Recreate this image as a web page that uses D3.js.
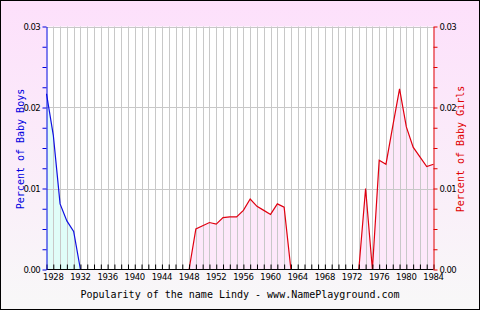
<!DOCTYPE html>
<html>
<head>
<meta charset="utf-8">
<script src="https://cdn.jsdelivr.net/npm/d3@7"></script>
<style>
  body { margin: 0; }
  svg { display: block; }
</style>
</head>
<body>
<svg id="chart"></svg>
<script>
// popularity of "Lindy", percent of babies per year
const boyYears = [1927, 1928, 1929, 1930, 1931, 1932];
const boyValues = [0.0217, 0.0166, 0.0081, 0.0060, 0.0047, 0.0];

const girlYears = [1948, 1949, 1950, 1951, 1952, 1953, 1954, 1955, 1956, 1957, 1958, 1959, 1960, 1961, 1962, 1963,
  1973, 1974, 1975, 1976, 1977, 1978, 1979, 1980, 1981, 1982, 1983, 1984];
const girlValues = [0.0, 0.0050, 0.0054, 0.0058, 0.0056, 0.0064, 0.0065, 0.0065, 0.0073, 0.0087, 0.0078, 0.0073, 0.0068, 0.0081, 0.0077, 0.0,
  0.0, 0.0100, 0.0, 0.0135, 0.0130, 0.0177, 0.0223, 0.0176, 0.0151, 0.0139, 0.0127, 0.0130];

const yearTicks = d3.range(1928, 1985, 4);
const valueTicks = [0, 0.01, 0.02, 0.03];
const valueLabels = ["0.00", "0.01", "0.02", "0.03"];
const title = "Popularity of the name Lindy - www.NamePlayground.com";

const W = 480, H = 310;
const svg = d3.select("#chart").attr("width", W).attr("height", H);

const defs = svg.append("defs");
const grad = defs.append("linearGradient").attr("id", "bg")
  .attr("x1", 0).attr("y1", 0).attr("x2", 0).attr("y2", 1);
grad.append("stop").attr("offset", "0%").attr("stop-color", "#fde0fb");
grad.append("stop").attr("offset", "100%").attr("stop-color", "#f8f8f8");

svg.append("rect").attr("x", 0.5).attr("y", 0.5).attr("width", W - 1).attr("height", H - 1)
  .attr("fill", "url(#bg)").attr("stroke", "#000");

const pLeft = 46.5, pRight = 433.5, pTop = 26.5, pBottom = 269.5;

const x = d3.scaleLinear().domain([1927, 1984]).range([pLeft, pRight]);
const y = d3.scaleLinear().domain([0, 0.03]).range([pBottom, pTop]);

svg.append("rect").attr("x", pLeft).attr("y", pTop).attr("width", pRight - pLeft).attr("height", pBottom - pTop)
  .attr("fill", "#fff");

// areas first so the grid shows through
const area = d3.area().x(d => x(d[0])).y0(y(0)).y1(d => y(d[1]));
const line = d3.line().x(d => x(d[0])).y(d => y(d[1]));

const boys = boyYears.map((yr, i) => [yr, boyValues[i]]);
const girls = girlYears.map((yr, i) => [yr, girlValues[i]]);
const girlParts = [girls.slice(0, 16), girls.slice(16)];

svg.append("path").datum(boys).attr("d", area).attr("fill", "#e0fdf8");
girlParts.forEach(p => svg.append("path").datum(p).attr("d", area).attr("fill", "#fde8fa"));

// grid
svg.append("g").selectAll("line").data(d3.range(1928, 1984)).join("line")
  .attr("x1", d => Math.round(x(d)) + 0.5).attr("x2", d => Math.round(x(d)) + 0.5)
  .attr("y1", pTop).attr("y2", pBottom)
  .attr("stroke", "#c8c8c8");
svg.append("g").selectAll("line").data(valueTicks.slice(1)).join("line")
  .attr("x1", pLeft).attr("x2", pRight)
  .attr("y1", d => Math.round(y(d)) + 0.5).attr("y2", d => Math.round(y(d)) + 0.5)
  .attr("stroke", "#c8c8c8");

svg.append("path").datum(boys).attr("d", line)
  .attr("fill", "none").attr("stroke", "#1010e0").attr("stroke-width", 1.2);
girlParts.forEach(p => svg.append("path").datum(p).attr("d", line)
  .attr("fill", "none").attr("stroke", "#e00010").attr("stroke-width", 1.2));

// axes
const bottomAxis = svg.append("g").attr("transform", `translate(0,${pBottom})`)
  .call(d3.axisBottom(x).tickValues(d3.range(1927, 1985)).tickSize(-5).tickFormat(""));
bottomAxis.select(".domain").remove();
bottomAxis.selectAll("line").attr("stroke", "#000");
svg.append("line").attr("x1", pLeft).attr("x2", pRight).attr("y1", pBottom).attr("y2", pBottom).attr("stroke", "#000");

svg.append("g").selectAll("text").data(yearTicks).join("text")
  .attr("x", d => x(d)).attr("y", pBottom + 10)
  .attr("text-anchor", "middle")
  .attr("font-family", "DejaVu Sans").attr("font-size", 8.5).attr("letter-spacing", -0.3)
  .attr("fill", "#000")
  .text(d => d);

const minor = d3.range(0, 0.0301, 0.0025);
const leftAxis = svg.append("g").attr("transform", `translate(${pLeft},0)`)
  .call(d3.axisLeft(y).tickValues(minor).tickSize(4).tickFormat("").tickSizeOuter(0));
leftAxis.selectAll("line, path").attr("stroke", "#0000e0");
const rightAxis = svg.append("g").attr("transform", `translate(${pRight},0)`)
  .call(d3.axisRight(y).tickValues(minor).tickSize(4).tickFormat("").tickSizeOuter(0));
rightAxis.selectAll("line, path").attr("stroke", "#e00000");

svg.append("g").selectAll("text").data(valueTicks).join("text")
  .attr("x", 40).attr("y", d => y(d) + 3)
  .attr("text-anchor", "end")
  .attr("font-family", "DejaVu Sans").attr("font-size", 8.5).attr("letter-spacing", -0.6)
  .attr("fill", "#000")
  .text((d, i) => valueLabels[i]);
svg.append("g").selectAll("text").data(valueTicks).join("text")
  .attr("x", pRight + 6).attr("y", d => y(d) + 3)
  .attr("text-anchor", "start")
  .attr("font-family", "DejaVu Sans").attr("font-size", 8.5).attr("letter-spacing", -0.6)
  .attr("fill", "#000")
  .text((d, i) => valueLabels[i]);

// titles
const mono = "DejaVu Sans Mono";
svg.append("text").attr("transform", "translate(24,149) rotate(-90)")
  .attr("text-anchor", "middle").attr("font-family", mono).attr("font-size", 10)
  .attr("fill", "#0000e0").text("Percent of Baby Boys");
svg.append("text").attr("transform", "translate(464,149) rotate(-90)")
  .attr("text-anchor", "middle").attr("font-family", mono).attr("font-size", 10)
  .attr("fill", "#e00000").text("Percent of Baby Girls");
svg.append("text").attr("x", 240).attr("y", 298)
  .attr("text-anchor", "middle").attr("font-family", mono).attr("font-size", 10)
  .attr("fill", "#000").text(title);
</script>
</body>
</html>
